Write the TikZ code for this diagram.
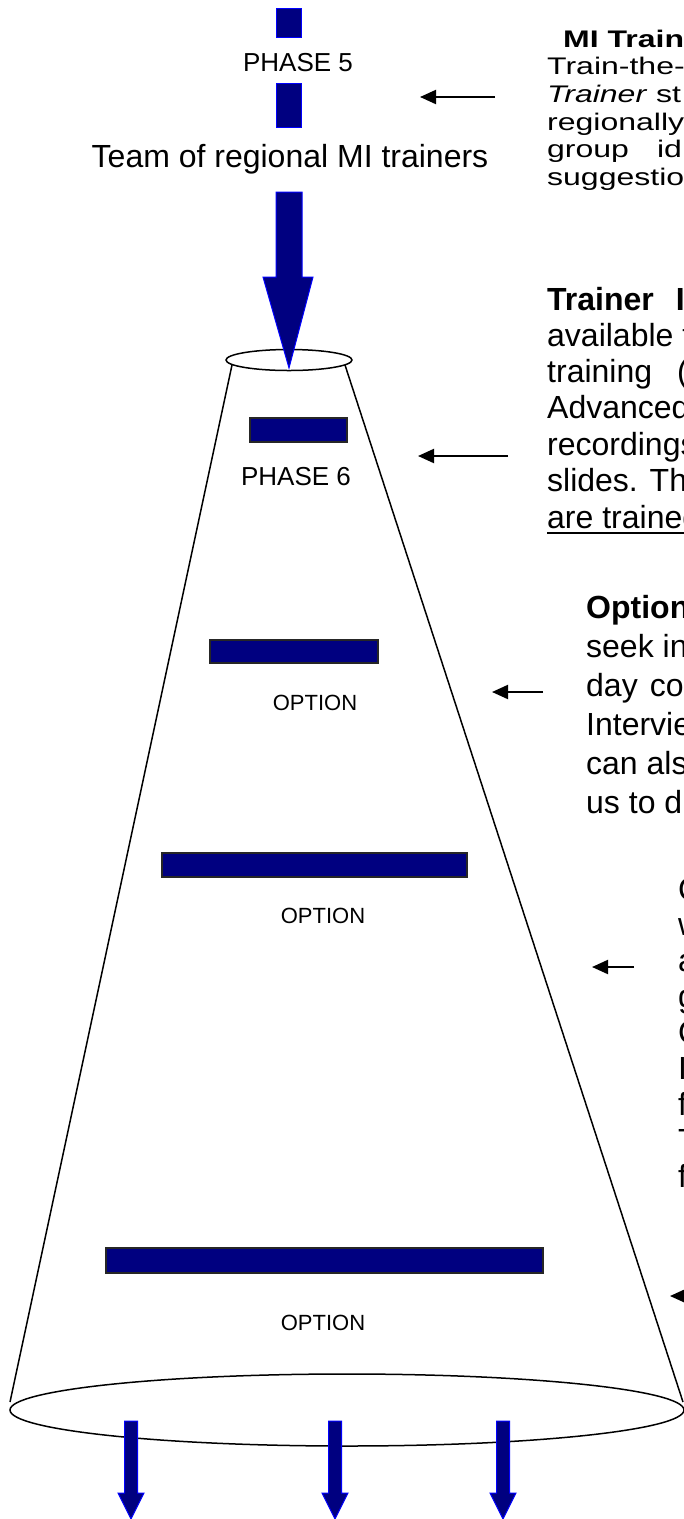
\documentclass[tikz,border=0pt]{standalone}
\usepackage{fontspec}
\setmainfont{Liberation Sans}
\usetikzlibrary{arrows.meta}
\definecolor{navyfill}{RGB}{0,0,128}
\definecolor{bluebord}{RGB}{0,0,255}
\begin{document}
\begin{tikzpicture}[x=1pt,y=-1pt,
  topbar/.style={fill=navyfill,draw=bluebord,line width=1pt},
  bar/.style={fill=navyfill,draw=black!85,line width=1.2pt},
  bluearrow/.style={fill=navyfill,draw=bluebord,line width=1pt,line join=miter},
  cone/.style={draw=black,line width=1.5pt},
  ptr/.style={-{Triangle[length=16pt,width=14pt]},line width=2pt},
  lbl/.style={inner sep=0pt,anchor=base,font=\fontsize{22}{26}\selectfont},
  phase/.style={inner sep=0pt,anchor=base,font=\fontsize{26}{30}\selectfont},
  body/.style={inner sep=0pt,anchor=base west,font=\fontsize{32}{38}\selectfont}]
\useasboundingbox (0,0) rectangle (684,1519);
\clip (0,0) rectangle (684,1519);

% top bars and labels
\draw[topbar] (276,8) rectangle (301,37);
\node[phase] (ph5) at (298,71) {PHASE 5};
\draw[topbar] (276,83) rectangle (301,127);
\node[body,anchor=base] (team) at (290,167) {Team of regional MI trainers};

% cone
\draw[cone] (289,360) ellipse [x radius=63pt, y radius=10.5pt];
\draw[cone] (232,365) -- (10,1402);
\draw[cone] (345,365) -- (683,1402);
\draw[cone] (347,1410) ellipse [x radius=337pt, y radius=36pt];

% big top arrow
\draw[bluearrow] (276,192) -- (302,192) -- (302,277) -- (313,277) -- (289,368)
  -- (263,277) -- (276,277) -- cycle;

% bottom arrows
\foreach \cx in {131,335,503}{
  \draw[bluearrow] ({\cx-6.5},1421) -- ({\cx+6.5},1421) -- ({\cx+6.5},1493)
    -- ({\cx+13},1493) -- (\cx,1519) -- ({\cx-13},1493) -- ({\cx-6.5},1493) -- cycle;
}

% bars in cone
\draw[bar] (250,418) rectangle (347,442);
\node[phase] (ph6) at (296,485) {PHASE 6};
\draw[bar] (210,640) rectangle (378,663);
\node[lbl] (op1) at (315,710) {OPTION};
\draw[bar] (162,853) rectangle (467,877);
\node[lbl] (op2) at (323,923) {OPTION};
\draw[bar] (106,1248) rectangle (543,1273);
\node[lbl] (op3) at (323,1330) {OPTION};

% pointer arrows
\coordinate (a1s) at (495,97);  \coordinate (a1e) at (420,97);
\coordinate (a2s) at (508,456); \coordinate (a2e) at (418,456);
\coordinate (a3s) at (543,692); \coordinate (a3e) at (492,692);
\coordinate (a4s) at (634,967); \coordinate (a4e) at (592,967);
\coordinate (a5s) at (720,1296); \coordinate (a5e) at (670,1296);
\draw[ptr] (a1s) -- (a1e);
\draw[ptr] (a2s) -- (a2e);
\draw[ptr] (a3s) -- (a3e);
\draw[ptr] (a4s) -- (a4e);
\draw[ptr] (a5s) -- (a5e);

% section 1 (vertically compressed)
\node[body] (s1a) at (563,47)    {\scalebox{1}[0.75]{\bfseries MI Train}};
\node[body] (s1b) at (547,74.7)  {\scalebox{1}[0.75]{Train-the-}};
\node[body] (s1c) at (547,102.4) {\scalebox{1}[0.75]{\textit{Trainer} st}};
\node[body] (s1d) at (547,130.1) {\scalebox{1}[0.75]{regionally}};
\node[body] (s1e) at (547,157.8) {\scalebox{1}[0.75]{group\hspace{28pt}id}};
\node[body] (s1f) at (547,185.5) {\scalebox{1}[0.75]{suggestio}};

% section 2
\node[body] (s2a) at (547,310) {\bfseries Trainer\hspace{22pt}I};
\node[body] (s2b) at (547,346) {available f};
\node[body] (s2c) at (547,382) {training\hspace{25pt}(};
\node[body] (s2d) at (547,418) {Advanced};
\node[body] (s2e) at (547,455) {recordings};
\node[body] (s2f) at (547,491) {slides. Th};
\node[body] (s2g) at (547,528) {are trained};
\draw[line width=2.3pt] ([yshift=-5pt]s2g.base west) -- ([yshift=-5pt]s2g.base east);

% section 3
\node[body] (s3a) at (586,618) {\bfseries Option};
\node[body] (s3b) at (586,657) {seek in};
\node[body] (s3c) at (586,696) {day\hspace{12pt}co};
\node[body] (s3d) at (586,735) {Intervie};
\node[body] (s3e) at (586,774) {can als};
\node[body] (s3f) at (586,813) {us to di};

% section 4 (only slivers visible)
\foreach \t [count=\i from 0] in {C,w,a,g,C,I,f,T,f}{
  \node[body] (s4-\i) at (678,{900+35.9*\i}) {\t};
}
\end{tikzpicture}
\end{document}
